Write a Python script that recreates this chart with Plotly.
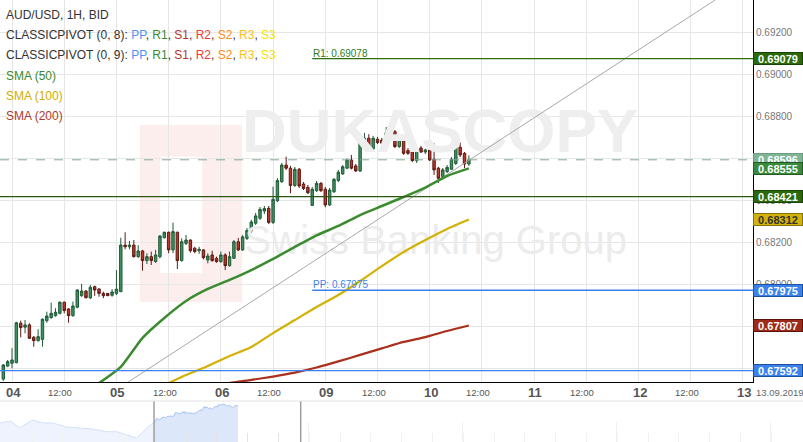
import plotly.graph_objects as go

# ---------------- data ----------------
# hourly candles, hour index 0 = 04 Sep 2019 00:00 (weekend removed)
hours = list(range(-2, 106))
opens = [0.67552, 0.67614, 0.67627, 0.67630, 0.67818, 0.67799, 0.67810, 0.67751, 0.67735, 0.67741,
         0.67830, 0.67844, 0.67854, 0.67865, 0.67918, 0.67886, 0.67854, 0.67894, 0.67949, 0.67971,
         0.67939, 0.67992, 0.67981, 0.67960, 0.67960, 0.67951, 0.67960, 0.67968, 0.68190, 0.68182,
         0.68190, 0.68135, 0.68162, 0.68116, 0.68135, 0.68111, 0.68135, 0.68225, 0.68251, 0.68167,
         0.68251, 0.68116, 0.68198, 0.68214, 0.68175, 0.68163, 0.68167, 0.68119, 0.68143, 0.68127,
         0.68111, 0.68143, 0.68092, 0.68127, 0.68206, 0.68167, 0.68222, 0.68257, 0.68294, 0.68318,
         0.68352, 0.68365, 0.68298, 0.68401, 0.68492, 0.68571, 0.68556, 0.68474, 0.68551, 0.68481,
         0.68465, 0.68379, 0.68449, 0.68484, 0.68456, 0.68381, 0.68444, 0.68497, 0.68529, 0.68556,
         0.68595, 0.68567, 0.68543, 0.68675, 0.68699, 0.68648, 0.68694, 0.68690, 0.68675, 0.68718,
         0.68730, 0.68659, 0.68703, 0.68640, 0.68635, 0.68592, 0.68652, 0.68633, 0.68643, 0.68599,
         0.68556, 0.68516, 0.68540, 0.68551, 0.68579, 0.68656, 0.68627, 0.68576]
highs = [0.67624, 0.67643, 0.67699, 0.67825, 0.67830, 0.67833, 0.67818, 0.67757, 0.67789, 0.67841,
         0.67873, 0.67916, 0.67889, 0.67921, 0.67921, 0.67889, 0.67921, 0.67980, 0.68005, 0.67976,
         0.68000, 0.67997, 0.67984, 0.67968, 0.67962, 0.67980, 0.68071, 0.68225, 0.68251, 0.68210,
         0.68214, 0.68190, 0.68167, 0.68151, 0.68159, 0.68167, 0.68238, 0.68254, 0.68254, 0.68297,
         0.68254, 0.68222, 0.68238, 0.68217, 0.68182, 0.68182, 0.68170, 0.68151, 0.68163, 0.68135,
         0.68159, 0.68151, 0.68159, 0.68214, 0.68224, 0.68238, 0.68271, 0.68310, 0.68343, 0.68371,
         0.68376, 0.68376, 0.68468, 0.68509, 0.68581, 0.68611, 0.68567, 0.68562, 0.68557, 0.68490,
         0.68476, 0.68467, 0.68495, 0.68490, 0.68467, 0.68462, 0.68509, 0.68548, 0.68571, 0.68602,
         0.68619, 0.68576, 0.68686, 0.68724, 0.68718, 0.68710, 0.68705, 0.68700, 0.68752, 0.68746,
         0.68738, 0.68714, 0.68714, 0.68652, 0.68643, 0.68657, 0.68662, 0.68649, 0.68675, 0.68675,
         0.68562, 0.68557, 0.68571, 0.68609, 0.68681, 0.68678, 0.68633, 0.68617]
lows = [0.67543, 0.67609, 0.67603, 0.67627, 0.67751, 0.67770, 0.67743, 0.67706, 0.67730, 0.67706,
        0.67820, 0.67840, 0.67849, 0.67860, 0.67865, 0.67820, 0.67849, 0.67889, 0.67944, 0.67937,
        0.67933, 0.67948, 0.67944, 0.67937, 0.67948, 0.67944, 0.67952, 0.67967, 0.68170, 0.68170,
        0.68130, 0.68129, 0.68068, 0.68100, 0.68095, 0.68106, 0.68127, 0.68222, 0.68151, 0.68151,
        0.68076, 0.68111, 0.68190, 0.68154, 0.68151, 0.68148, 0.68122, 0.68103, 0.68111, 0.68106,
        0.68106, 0.68071, 0.68087, 0.68124, 0.68162, 0.68162, 0.68214, 0.68248, 0.68286, 0.68310,
        0.68338, 0.68290, 0.68290, 0.68395, 0.68486, 0.68548, 0.68437, 0.68467, 0.68462, 0.68452,
        0.68433, 0.68376, 0.68443, 0.68443, 0.68370, 0.68376, 0.68438, 0.68490, 0.68524, 0.68552,
        0.68550, 0.68538, 0.68538, 0.68667, 0.68643, 0.68643, 0.68671, 0.68667, 0.68671, 0.68714,
        0.68652, 0.68652, 0.68619, 0.68619, 0.68586, 0.68581, 0.68629, 0.68624, 0.68590, 0.68524,
        0.68486, 0.68510, 0.68533, 0.68548, 0.68571, 0.68609, 0.68557, 0.68567]
closes = [0.67619, 0.67635, 0.67643, 0.67820, 0.67797, 0.67810, 0.67746, 0.67735, 0.67754, 0.67837,
          0.67852, 0.67865, 0.67870, 0.67918, 0.67878, 0.67854, 0.67900, 0.67976, 0.67971, 0.67939,
          0.67989, 0.67976, 0.67960, 0.67949, 0.67949, 0.67967, 0.67980, 0.68190, 0.68182, 0.68190,
          0.68135, 0.68162, 0.68116, 0.68135, 0.68116, 0.68143, 0.68233, 0.68251, 0.68167, 0.68254,
          0.68116, 0.68206, 0.68214, 0.68163, 0.68159, 0.68170, 0.68130, 0.68138, 0.68116, 0.68111,
          0.68143, 0.68092, 0.68135, 0.68206, 0.68167, 0.68229, 0.68259, 0.68300, 0.68329, 0.68360,
          0.68364, 0.68298, 0.68408, 0.68497, 0.68571, 0.68556, 0.68474, 0.68551, 0.68471, 0.68459,
          0.68439, 0.68456, 0.68484, 0.68449, 0.68381, 0.68452, 0.68503, 0.68537, 0.68563, 0.68595,
          0.68556, 0.68543, 0.68679, 0.68699, 0.68648, 0.68699, 0.68678, 0.68675, 0.68725, 0.68733,
          0.68659, 0.68703, 0.68627, 0.68627, 0.68592, 0.68646, 0.68633, 0.68643, 0.68595, 0.68548,
          0.68508, 0.68548, 0.68560, 0.68599, 0.68656, 0.68619, 0.68576, 0.68596]

sma50_h = [20, 25, 30, 35, 40, 45, 50, 55, 60, 65, 70, 75, 80, 85, 90, 95, 100, 105]
sma50_v = [0.67533, 0.67610, 0.67748, 0.67843, 0.67924, 0.67981, 0.68024, 0.68071, 0.68124,
           0.68181, 0.68236, 0.68281, 0.68333, 0.68376, 0.68419, 0.68464, 0.68519, 0.68555]
sma100_h = [36, 40, 45, 50, 55, 60, 65, 70, 75, 80, 85, 90, 95, 100, 105]
sma100_v = [0.67533, 0.67571, 0.67614, 0.67662, 0.67705, 0.67771, 0.67833, 0.67895, 0.67952,
            0.68019, 0.68090, 0.68157, 0.68214, 0.68267, 0.68312]
sma200_h = [47, 50, 55, 60, 65, 70, 75, 80, 85, 90, 95, 100, 105]
sma200_v = [0.67519, 0.67533, 0.67548, 0.67564, 0.67583, 0.67607, 0.67636, 0.67667, 0.67698,
            0.67729, 0.67752, 0.67781, 0.67807]

trend_h = [26.7, 161.6]
trend_v = [0.67538, 0.69357]

pp_prev = 0.67592
r1_prev = 0.68421
pp_cur = 0.67975
r1_cur = 0.69078
r1_cur_axis = 0.69079
pivot_start_h = 69
last_price = 0.68596

# navigator history before the visible window
nav_hist_h = [-198, -185, -173, -157, -143, -131, -113, -96, -80, -62, -49, -36, -24, -16, -10, -3]
nav_hist_v = [0.67537, 0.67663, 0.67223, 0.67726, 0.67537, 0.67537, 0.67286, 0.67223, 0.67161,
              0.66991, 0.66991, 0.66784, 0.66596, 0.66972, 0.67286, 0.67537]

y_ticks = [0.676, 0.678, 0.680, 0.682, 0.684, 0.686, 0.688, 0.690, 0.692]
day_ticks_h = [0, 24, 48, 72, 96, 120, 144, 168]
day_labels = ["04", "05", "06", "09", "10", "11", "12", "13"]
half_ticks_h = [12, 36, 60, 84, 108, 132, 156]
half_label = "12:00"
date_label = "13.09.2019"

title_line = "AUD/USD, 1H, BID"
pivot_names = ["PP", "R1", "S1", "R2", "S2", "R3", "S3"]
pivot_colors = ["#4f92f0", "#3a8a2e", "#b3352e", "#f03a3a", "#ff8a1c", "#ffbf16", "#f4e200"]

# ---------------- layout constants ----------------
W, H = 803, 442
X_MIN, X_MAX = -2.76, 170.3
Y_MIN, Y_MAX = 0.67538, 0.69357
MAIN_X_END = 753 / W
MAIN_Y_START = 60 / H
NAV_TOP = 41 / H
NAV_RANGE = [-198.2, 824.8]
NAV_SEL = [-2, 184.9]
FONT = "Liberation Sans, Arial, sans-serif"
NARROW = "Liberation Sans Narrow, Arial Narrow, Liberation Sans, Arial, sans-serif"

def py(pix):
    return 1 - pix / H

def px(pix):
    return pix / W

fig = go.Figure()

# watermark (behind the candles)
fig.add_trace(go.Scatter(x=[98.4], y=[0.68705], mode="text", text=["<b>DUKASCOPY</b>"],
                         textfont=dict(family=NARROW, size=62, color="#eeeeee"),
                         hoverinfo="skip", showlegend=False))
fig.add_trace(go.Scatter(x=[97.4], y=[0.68195], mode="text", text=["Swiss Banking Group"],
                         textfont=dict(family=NARROW, size=40, color="#ececec"),
                         hoverinfo="skip", showlegend=False))

# trend line
fig.add_trace(go.Scatter(x=trend_h, y=trend_v, mode="lines",
                         line=dict(color="#a8a8a8", width=1), hoverinfo="skip", showlegend=False))

# SMAs
fig.add_trace(go.Scatter(x=sma200_h, y=sma200_v, mode="lines",
                         line=dict(color="#a8301c", width=2.2, shape="spline", smoothing=0.6),
                         hoverinfo="skip", showlegend=False))
fig.add_trace(go.Scatter(x=sma100_h, y=sma100_v, mode="lines",
                         line=dict(color="#d4b106", width=2.2, shape="spline", smoothing=0.6),
                         hoverinfo="skip", showlegend=False))
fig.add_trace(go.Scatter(x=sma50_h, y=sma50_v, mode="lines",
                         line=dict(color="#3b8b2f", width=2.5, shape="spline", smoothing=0.6),
                         hoverinfo="skip", showlegend=False))

# candles
fig.add_trace(go.Candlestick(
    x=hours, open=opens, high=highs, low=lows, close=closes,
    increasing=dict(line=dict(color="#1f5a36", width=1), fillcolor="#3f9163"),
    decreasing=dict(line=dict(color="#5e1a12", width=1), fillcolor="#b8362b"),
    whiskerwidth=0, hoverinfo="skip", showlegend=False))

# navigator
fig.add_trace(go.Scatter(x=nav_hist_h + hours, y=nav_hist_v + closes, mode="lines",
                         fill="tozeroy", fillcolor="#dce7fa",
                         line=dict(color="#a6c3f2", width=1),
                         xaxis="x2", yaxis="y2", hoverinfo="skip", showlegend=False))

shapes = []
# dukascopy logo block
shapes.append(dict(type="rect", xref="x", yref="y", x0=29.4, x1=52.9, y0=0.67919, y1=0.68762,
                   fillcolor="#fdeeee", line=dict(width=0), layer="below"))
shapes.append(dict(type="rect", xref="x", yref="y", x0=34.0, x1=43.7, y0=0.68057, y1=0.68610,
                   fillcolor="#ffffff", line=dict(width=0), layer="below"))
# pivot lines
shapes.append(dict(type="line", xref="x domain", yref="y", x0=0, x1=1, y0=r1_prev, y1=r1_prev,
                   line=dict(color="#2a5714", width=1.3)))
shapes.append(dict(type="line", xref="x domain", yref="y", x0=0, x1=1, y0=pp_prev, y1=pp_prev,
                   line=dict(color="#3b82ee", width=1.3)))
shapes.append(dict(type="line", xref="x", yref="y", x0=pivot_start_h, x1=X_MAX, y0=r1_cur, y1=r1_cur,
                   line=dict(color="#2e6e0c", width=1.3)))
shapes.append(dict(type="line", xref="x", yref="y", x0=pivot_start_h, x1=X_MAX, y0=pp_cur, y1=pp_cur,
                   line=dict(color="#3b82ee", width=1.3)))
shapes.append(dict(type="line", xref="x domain", yref="y", x0=0, x1=1, y0=last_price, y1=last_price,
                   line=dict(color="#84a894", width=1, dash="dash")))
# navigator decorations
shapes.append(dict(type="rect", xref="x2", yref="y2 domain", x0=NAV_RANGE[0], x1=NAV_SEL[0], y0=0, y1=1,
                   fillcolor="rgba(255,255,255,0.5)", line=dict(width=0)))
shapes.append(dict(type="rect", xref="x2", yref="y2 domain", x0=NAV_SEL[1], x1=NAV_RANGE[1], y0=0, y1=1,
                   fillcolor="rgba(255,255,255,0.5)", line=dict(width=0)))
for xs in NAV_SEL:
    shapes.append(dict(type="line", xref="x2", yref="y2 domain", x0=xs, x1=xs, y0=0, y1=1,
                       line=dict(color="#a0a0a0", width=1.5)))
shapes.append(dict(type="line", xref="paper", yref="paper", x0=0, x1=1, y0=NAV_TOP, y1=NAV_TOP,
                   line=dict(color="#e2e2e2", width=1)))

ann = []
# legend text
rows = [
    (title_line, 15.5),
    ("CLASSICPIVOT (0, 8): " + ", ".join(f"<span style='color:{c}'>{n}</span>" for n, c in zip(pivot_names, pivot_colors)), 35),
    ("CLASSICPIVOT (0, 9): " + ", ".join(f"<span style='color:{c}'>{n}</span>" for n, c in zip(pivot_names, pivot_colors)), 55),
    ("<span style='color:#3a8a2e'>SMA (50)</span>", 76),
    ("<span style='color:#d0ad00'>SMA (100)</span>", 96),
    ("<span style='color:#b03a2c'>SMA (200)</span>", 116),
]
for t, yp in rows:
    ann.append(dict(xref="paper", yref="paper", x=px(4), y=py(yp), xanchor="left", yanchor="middle",
                    text=t, showarrow=False, font=dict(family=FONT, size=12, color="#333333")))

# pivot labels in plot
ann.append(dict(xref="x", yref="y", x=pivot_start_h, y=r1_cur, xanchor="left", yanchor="bottom",
                text=f"R1: {r1_cur:.5f}", showarrow=False, borderpad=0, yshift=-1,
                font=dict(family=FONT, size=10, color="#2e7d1a")))
ann.append(dict(xref="x", yref="y", x=pivot_start_h, y=pp_cur, xanchor="left", yanchor="bottom",
                text=f"PP: {pp_cur:.5f}", showarrow=False, borderpad=0, yshift=-1,
                font=dict(family=FONT, size=10, color="#3b82ee")))

# right-side value labels
labels = [
    (r1_cur_axis, "#2b6a0a", "#1a4405", "#ffffff"),
    (last_price, "#80b596", "#6a9c7f", "#ffffff"),
    (sma50_v[-1], "#3a8a3c", "#245a25", "#ffffff"),
    (r1_prev, "#2b6a0a", "#1a4405", "#ffffff"),
    (sma100_v[-1], "#d2b30d", "#8a7405", "#333333"),
    (pp_cur, "#3b82ee", "#1d4f9c", "#ffffff"),
    (sma200_v[-1], "#9e2a17", "#5a140a", "#ffffff"),
    (pp_prev, "#3b82ee", "#1d4f9c", "#ffffff"),
]
for v, bg, bd, fc in labels:
    ann.append(dict(xref="paper", yref="y", x=MAIN_X_END, y=v, xanchor="left", yanchor="middle",
                    text=f"<b>{v:.5f}</b>", showarrow=False, bgcolor=bg, bordercolor=bd,
                    borderwidth=1, borderpad=0, width=48, height=11, align="center",
                    font=dict(family=FONT, size=11, color=fc)))

# x labels
for hx, lab in zip(day_ticks_h, day_labels):
    ann.append(dict(xref="x", yref="paper", x=hx, y=py(392), xanchor="center", yanchor="middle",
                    text=f"<b>{lab}</b>", showarrow=False, xshift=1,
                    font=dict(family=FONT, size=13, color="#555555")))
for hx in half_ticks_h:
    ann.append(dict(xref="x", yref="paper", x=hx, y=py(392), xanchor="center", yanchor="middle",
                    text=half_label, showarrow=False, xshift=-4,
                    font=dict(family=FONT, size=9.5, color="#555555")))
ann.append(dict(xref="paper", yref="paper", x=px(754), y=py(392), xanchor="left", yanchor="middle",
                text=date_label, showarrow=False, font=dict(family=FONT, size=9.5, color="#666666")))

fig.update_layout(
    width=W, height=H, margin=dict(l=0, r=0, t=0, b=0),
    paper_bgcolor="white", plot_bgcolor="white", hovermode=False, showlegend=False,
    boxgap=0.2,
    xaxis=dict(domain=[0, MAIN_X_END], anchor="y", range=[X_MIN, X_MAX], showgrid=True,
               gridcolor="#e6e6e6", gridwidth=1, tick0=0, dtick=12, showticklabels=False,
               ticks="", showline=True, linecolor="#000000", linewidth=1, zeroline=False,
               rangeslider=dict(visible=False), fixedrange=True),
    yaxis=dict(domain=[MAIN_Y_START, 1], anchor="x", range=[Y_MIN, Y_MAX], side="right",
               tickvals=y_ticks, ticktext=[f"{t:.5f}" for t in y_ticks], showgrid=True,
               gridcolor="#e6e6e6", ticks="", showline=True, linecolor="#000000", linewidth=1,
               zeroline=False, tickfont=dict(family=FONT, size=10, color="#777777")),
    xaxis2=dict(domain=[0, 1], anchor="y2", range=NAV_RANGE, showgrid=False, zeroline=False,
                showticklabels=False, showline=False, ticks="inside", tick0=391.2, dtick=196.2,
                ticklen=20, tickcolor="#e3e3e3",
                minor=dict(ticks="inside", tick0=-157.4, dtick=39.24, ticklen=9, tickcolor="#e3e3e3")),
    yaxis2=dict(domain=[0, NAV_TOP], anchor="x2", range=[0.66345, 0.68918], showgrid=False,
                zeroline=False, showticklabels=False, showline=False, ticks=""),
    shapes=shapes, annotations=ann,
)

fig.write_html("out.html", config={"displayModeBar": False, "staticPlot": True},
               post_script="document.body.style.margin='0';document.body.style.overflow='hidden';")
